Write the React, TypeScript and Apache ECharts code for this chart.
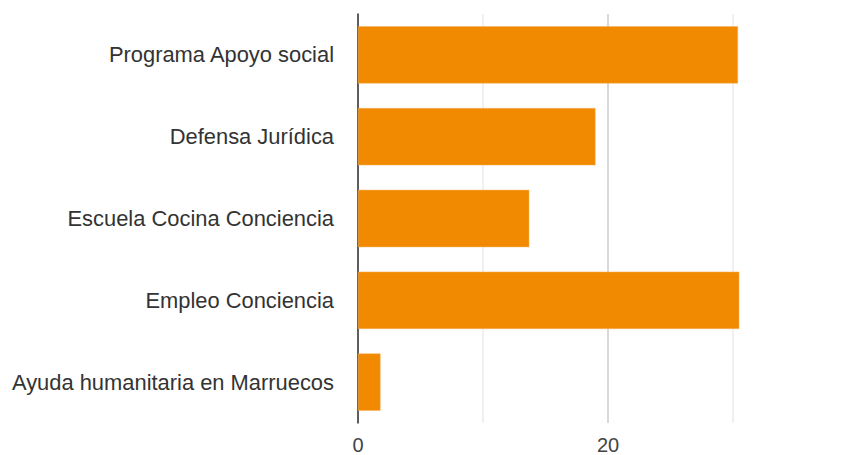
import React, { useEffect, useRef } from "react";
import * as echarts from "echarts";

const categories = [
  "Programa Apoyo social",
  "Defensa Jurídica",
  "Escuela Cocina Conciencia",
  "Empleo Conciencia",
  "Ayuda humanitaria en Marruecos",
];
const values = [30.4, 19.0, 13.7, 30.5, 1.8];
const xTickLabels = [0, 20];

export default function App() {
  const ref = useRef<HTMLDivElement>(null);
  useEffect(() => {
    if (!ref.current) return;
    const chart = echarts.init(ref.current, undefined, { renderer: "svg" });
    chart.setOption({
      animation: false,
      backgroundColor: "#ffffff",
      grid: {
        left: 358,
        top: 14,
        height: 409,
        width: 500,
        containLabel: false,
        outerBoundsMode: "none",
      },
      xAxis: {
        type: "value",
        min: 0,
        max: 40,
        interval: 10,
        axisLine: { show: false },
        axisTick: { show: false },
        splitLine: { show: true, lineStyle: { color: ["#cccccc", "#ebebeb"], width: 1.5 } },
        axisLabel: {
          margin: 12,
          fontFamily: "Liberation Sans, Arial, sans-serif",
          fontSize: 20,
          color: "#444444",
          formatter: (v: number) => (xTickLabels.includes(v) ? String(v) : ""),
        },
      },
      yAxis: {
        type: "category",
        data: categories,
        inverse: true,
        axisTick: { show: false },
        axisLine: { show: true, lineStyle: { color: "#333333", width: 1.5 } },
        axisLabel: {
          margin: 24,
          fontFamily: "Liberation Sans, Arial, sans-serif",
          fontSize: 21.9,
          color: "#333333",
        },
      },
      series: [
        {
          type: "bar",
          data: values,
          barCategoryGap: "30%",
          itemStyle: { color: "#f18a00", borderColor: "#f6b35c", borderWidth: 0.5 },
        },
      ],
    });
    return () => chart.dispose();
  }, []);
  return (
    <div
      ref={ref}
      style={{ position: "fixed", left: 0, top: 0, width: 852, height: 455, overflow: "hidden" }}
    />
  );
}
